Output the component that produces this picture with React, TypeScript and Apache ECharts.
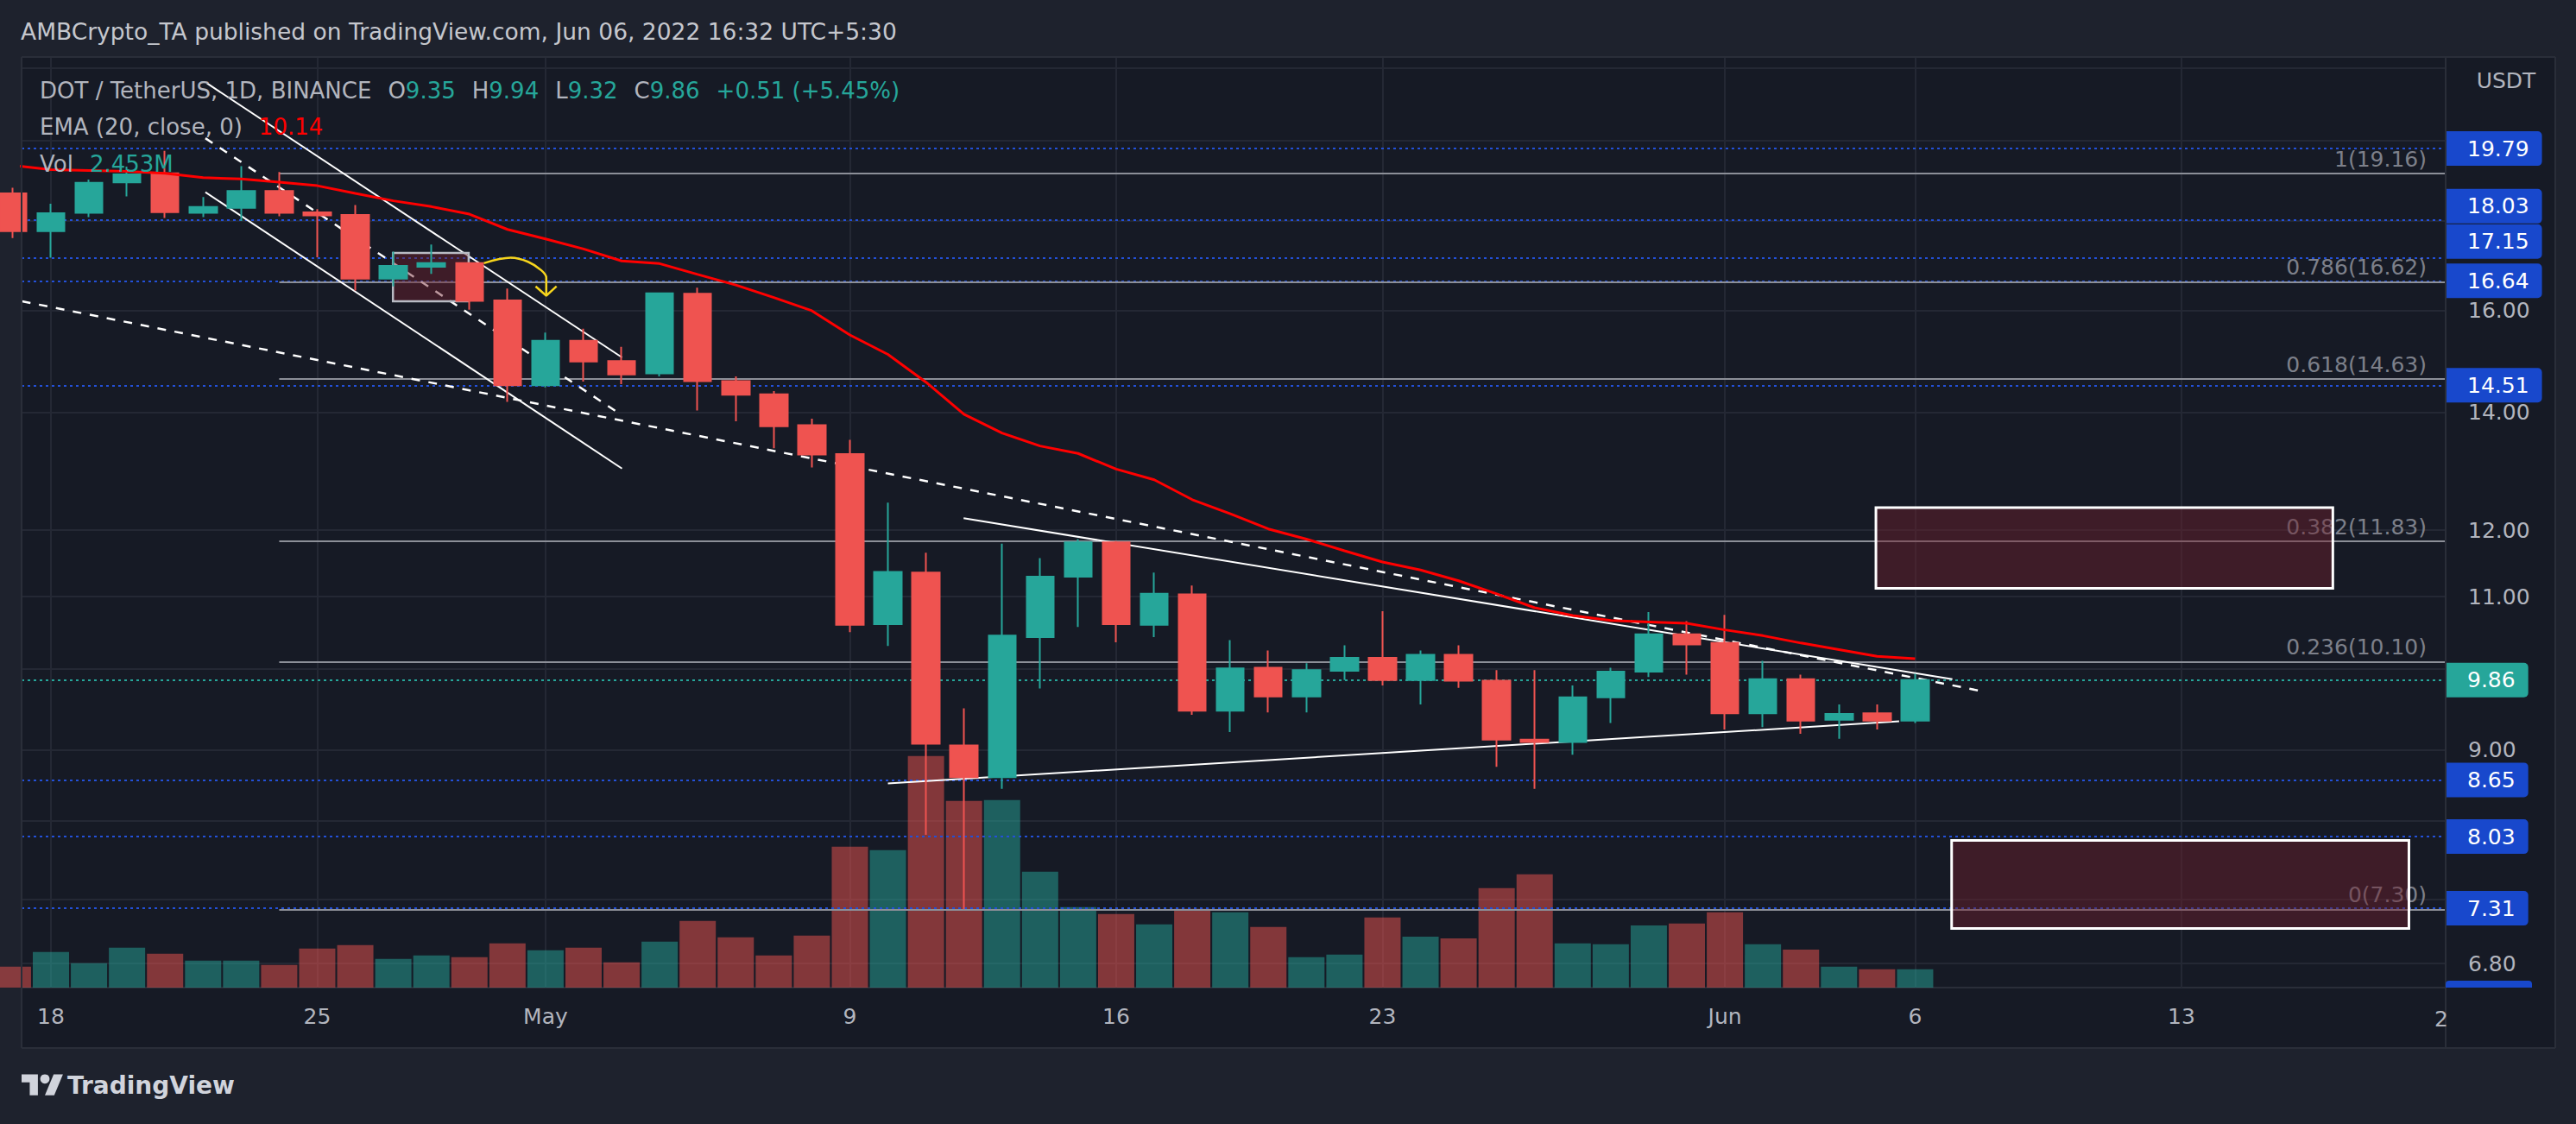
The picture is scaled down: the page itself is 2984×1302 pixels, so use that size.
import React, { useEffect, useRef } from 'react';
import * as echarts from 'echarts';

// ---------- data ----------
const dates = [
  'Apr 17', 'Apr 18', 'Apr 19', 'Apr 20', 'Apr 21', 'Apr 22', 'Apr 23', 'Apr 24', 'Apr 25', 'Apr 26',
  'Apr 27', 'Apr 28', 'Apr 29', 'Apr 30', 'May 1', 'May 2', 'May 3', 'May 4', 'May 5', 'May 6',
  'May 7', 'May 8', 'May 9', 'May 10', 'May 11', 'May 12', 'May 13', 'May 14', 'May 15', 'May 16',
  'May 17', 'May 18', 'May 19', 'May 20', 'May 21', 'May 22', 'May 23', 'May 24', 'May 25', 'May 26',
  'May 27', 'May 28', 'May 29', 'May 30', 'May 31', 'Jun 1', 'Jun 2', 'Jun 3', 'Jun 4', 'Jun 5', 'Jun 6',
];
const opens = [
  18.66, 17.76, 18.19, 18.93, 19.16, 18.19, 18.31, 18.72, 18.20, 18.14,
  16.69, 16.95, 17.03, 16.22, 14.51, 15.38, 14.98, 14.74, 16.36, 14.59,
  14.34, 13.77, 13.26, 10.61, 11.35, 9.05, 8.68, 10.43, 11.29, 11.81,
  10.60, 11.03, 9.47, 10.02, 9.65, 9.98, 10.15, 9.86, 10.19, 9.85,
  9.12, 9.09, 9.64, 9.97, 10.47, 10.35, 9.44, 9.87, 9.36, 9.44, 9.35,
];
const closes = [
  17.76, 18.18, 18.92, 19.13, 18.21, 18.33, 18.72, 18.19, 18.13, 16.69,
  16.97, 17.03, 16.21, 14.51, 15.38, 14.97, 14.72, 16.37, 14.59, 14.33,
  13.75, 13.25, 10.60, 11.36, 9.07, 8.68, 10.45, 11.29, 11.81, 10.61,
  11.04, 9.47, 10.01, 9.65, 9.99, 10.15, 9.86, 10.19, 9.85, 9.12,
  9.09, 9.64, 9.97, 10.47, 10.33, 9.44, 9.87, 9.35, 9.43, 9.35, 9.86,
];
const lows = [
  17.60, 17.15, 18.09, 18.59, 18.07, 18.09, 18.00, 18.11, 17.16, 16.43,
  16.52, 16.79, 16.02, 14.20, 14.47, 14.58, 14.53, 14.68, 14.04, 13.84,
  13.36, 13.03, 10.50, 10.31, 8.05, 7.30, 8.55, 9.75, 10.57, 10.36,
  10.43, 9.42, 9.21, 9.45, 9.45, 9.86, 9.79, 9.55, 9.76, 8.80,
  8.55, 8.94, 9.32, 9.90, 9.93, 9.24, 9.27, 9.19, 9.13, 9.24, 9.32,
];
const highs = [
  18.80, 18.41, 19.00, 19.33, 19.73, 18.57, 19.34, 19.19, 18.28, 18.38,
  17.29, 17.45, 17.05, 16.47, 15.55, 15.63, 15.26, 16.39, 16.49, 14.68,
  14.40, 13.89, 13.51, 12.44, 11.65, 9.50, 11.79, 11.57, 11.86, 11.83,
  11.35, 11.16, 10.39, 10.25, 10.08, 10.32, 10.79, 10.25, 10.32, 9.99,
  9.99, 9.79, 10.02, 10.78, 10.65, 10.74, 10.11, 9.93, 9.55, 9.55, 9.94,
];
// volume in millions
const volumes = [
  2.80, 4.76, 3.26, 5.33, 4.53, 3.61, 3.61, 3.03, 5.22, 5.68,
  3.84, 4.30, 4.07, 5.91, 4.99, 5.33, 3.38, 6.14, 8.91, 6.72,
  4.30, 6.95, 18.81, 18.35, 30.91, 24.92, 25.03, 15.47, 10.75, 9.83,
  8.44, 10.52, 10.06, 8.10, 4.07, 4.41, 9.37, 6.81, 6.58, 13.28,
  15.13, 5.91, 5.79, 8.31, 8.56, 10.06, 5.79, 5.08, 2.80, 2.45, 2.453,
];
const ema20 = [
  19.36, 19.25, 19.23, 19.21, 19.16, 19.05, 19.02, 18.94, 18.85, 18.66,
  18.48, 18.34, 18.16, 17.80, 17.58, 17.35, 17.08, 17.02, 16.78, 16.55,
  16.28, 16.00, 15.50, 15.11, 14.57, 13.97, 13.63, 13.40, 13.27, 13.00,
  12.82, 12.49, 12.26, 12.02, 11.86, 11.68, 11.51, 11.39, 11.23, 11.04,
  10.84, 10.73, 10.66, 10.64, 10.62, 10.53, 10.45, 10.35, 10.26, 10.17, 10.14,
];

// time axis ticks (days from Apr 18)
const timeTickDays = [0, 7, 13, 21, 28, 35, 44, 49, 56];
const timeTickLabels = ['18', '25', 'May', '9', '16', '23', 'Jun', '6', '13'];

// price axis ticks (labels hidden where a price tag covers them)
const priceTicks = [22, 20, 18, 16, 14, 12, 11, 10, 9, 8.2, 7.4, 6.8];
const priceTickShown = [false, false, false, true, true, true, true, false, true, false, false, true];

// horizontal levels (blue dotted) and where their tags sit
const blueLevels = [19.79, 18.03, 17.15, 16.64, 14.51, 8.65, 8.03, 7.31];
const blueTagAnchors = [19.79, 18.35, 17.52, 16.64, 14.51, 8.65, 8.03, 7.31];

// fibonacci retracement
const fibRatios = ['1', '0.786', '0.618', '0.382', '0.236', '0'];
const fibLevels = [19.16, 16.62, 14.63, 11.83, 10.10, 7.30];
const fibStartDay = 6;

// drawings: [day, price]
const channelUpper = [[4.10, 21.56], [15.01, 15.05]];
const channelLower = [[4.06, 18.69], [15.01, 13.01]];
const channelMid = [[4.06, 20.06], [14.97, 13.97]];
const longTrend = [[-0.76, 16.2], [50.82, 9.71]];
const triangleUpper = [[23.99, 12.19], [49.98, 9.87]];
const triangleLower = [[22.0, 8.61], [48.58, 9.34]];
const boxSmall = [[8.99, 17.26], [10.98, 16.20]];
const boxUpper = [[47.97, 12.36], [59.98, 11.12]];
const boxLower = [[49.96, 7.99], [61.98, 7.12]];
const arrowCurve = [[11.38, 17.03], [12.09, 17.15], [12.54, 17.06], [12.89, 16.87], [13.02, 16.71], [13.02, 16.32]];
const arrowHead = [[12.74, 16.52], [13.02, 16.32], [13.29, 16.52]];

// ---------- style ----------
const FONT = "'DejaVu Sans', sans-serif";
const TEAL = '#26a69a';
const RED = '#ef5350';
const GREY_TEXT = '#b2b5be';
const GRID_COLOR = '#242834';
const BORDER = '#2a2e39';
const BLUE_LINE = '#2350d8';
const BLUE_TAG = '#1848cc';
const FIB_LINE = '#8c8f98';
const FIB_TEXT = '#7d808a';

const XMIN = -0.7715;
const XMAX = 62.945;
const PMIN = 6.588;
const PMAX = 22.29;
const VMAX = 124.1;

function buildOption() {
  const n = dates.length;
  const dayOf = (k: number) => k - 1;
  const last = n - 1;
  const change = closes[last] - closes[last - 1];
  const changePct = (change / closes[last - 1]) * 100;

  const candleData = dates.map((_, k) => [dayOf(k), opens[k], closes[k], lows[k], highs[k]]);
  const volData = volumes.map((v, k) => ({
    value: [dayOf(k), v],
    itemStyle: { color: closes[k] >= opens[k] ? 'rgba(38,166,154,0.5)' : 'rgba(239,83,80,0.5)' },
  }));
  const emaData = ema20.map((v, k) => [dayOf(k), v]);

  const axisLabelStyle = { color: GREY_TEXT, fontSize: 25, fontFamily: FONT };
  const tagStyle = {
    show: true, position: 'end', distance: 0, color: '#ffffff', fontSize: 25, fontFamily: FONT,
    padding: [8, 15, 8, 25], lineHeight: 24, borderRadius: [0, 5, 5, 0], opacity: 1,
  };
  const hiddenLine = { color: 'rgba(0,0,0,0)', width: 1, opacity: 1 };

  const seg = (pts: number[][], lineStyle: any) => [
    { coord: pts[0], lineStyle }, { coord: pts[1] },
  ];
  const whiteSolid = { color: '#ffffff', width: 2, type: 'solid' };
  const whiteDashed = { color: '#ffffff', width: 2.5, type: [10, 10] };
  const boxStyle = (border: string, bw: number) => ({
    color: 'rgba(110,30,45,0.45)', borderColor: border, borderWidth: bw,
  });

  const legend1 =
    '{g|DOT / TetherUS, 1D, BINANCE}{s| }' +
    `{g|O}{t|${opens[last].toFixed(2)}}{s| }` +
    `{g|H}{t|${highs[last].toFixed(2)}}{s| }` +
    `{g|L}{t|${lows[last].toFixed(2)}}{s| }` +
    `{g|C}{t|${closes[last].toFixed(2)}}{s| }` +
    `{t|${change >= 0 ? '+' : ''}${change.toFixed(2)} (${change >= 0 ? '+' : ''}${changePct.toFixed(2)}%)}`;
  const rich = {
    g: { fill: GREY_TEXT, fontSize: 26, fontFamily: FONT },
    t: { fill: TEAL, fontSize: 26, fontFamily: FONT },
    r: { fill: '#ff0000', fontSize: 26, fontFamily: FONT },
    s: { width: 19, fontSize: 26, fontFamily: FONT },
  };

  const borderLine = (x1: number, y1: number, x2: number, y2: number) => ({
    type: 'line', z: 20, silent: true,
    shape: { x1, y1, x2, y2 }, style: { stroke: BORDER, lineWidth: 2 },
  });

  return {
    animation: false,
    backgroundColor: '#1e222d',
    textStyle: { fontFamily: FONT },
    grid: { left: 25, right: 151, top: 67, bottom: 158, containLabel: false },
    xAxis: {
      type: 'value', min: XMIN, max: XMAX,
      axisLine: { show: true, lineStyle: { color: BORDER, width: 2 } },
      axisTick: { show: false },
      splitLine: { show: false },
      axisLabel: {
        ...axisLabelStyle, margin: 21,
        customValues: timeTickDays,
        formatter: (v: number) => {
          const j = timeTickDays.indexOf(Math.round(v));
          return j >= 0 ? timeTickLabels[j] : '';
        },
      },
    },
    yAxis: [
      { type: 'log', min: PMIN, max: PMAX, show: false, splitLine: { show: false } },
      { type: 'value', min: 0, max: VMAX, show: false, splitLine: { show: false } },
    ],
    series: [
      // grid lines + price axis labels
      {
        type: 'line', data: [], z: 1, clip: false, silent: true,
        markLine: {
          z: 1, symbol: 'none', silent: true, label: { show: false },
          data: [
            ...priceTicks.map((p, j) => ({
              yAxis: p,
              lineStyle: { color: GRID_COLOR, width: 2, type: 'solid' },
              label: priceTickShown[j]
                ? { show: true, position: 'end', distance: 26, formatter: p.toFixed(2), ...axisLabelStyle }
                : { show: false },
            })),
            ...timeTickDays.map((d) => ({
              xAxis: d,
              lineStyle: { color: GRID_COLOR, width: 2, type: 'solid' },
              label: { show: false },
            })),
          ],
        },
      },
      // volume
      {
        type: 'bar', name: 'Vol', xAxisIndex: 0, yAxisIndex: 1, z: 2, barWidth: 42,
        data: volData,
      },
      // horizontal levels, fib
      {
        type: 'line', data: [], z: 3, clip: false, silent: true,
        markLine: {
          z: 3, symbol: 'none', silent: true, label: { show: false },
          data: [
            ...blueLevels.map((p) => ({
              yAxis: p, lineStyle: { color: BLUE_LINE, width: 2, type: [3, 4] },
            })),
            { yAxis: closes[last], lineStyle: { color: TEAL, width: 2, type: [3, 4] } },
            ...fibLevels.map((p, j) => [
              {
                coord: [fibStartDay, p],
                lineStyle: { color: FIB_LINE, width: 2, type: 'solid' },
                label: {
                  show: true, position: 'insideEndTop', distance: [22, 4],
                  formatter: `${fibRatios[j]}(${p.toFixed(2)})`,
                  color: FIB_TEXT, fontSize: 25, fontFamily: FONT,
                },
              },
              { coord: [XMAX, p] },
            ]),
          ],
        },
      },
      // trend lines
      {
        type: 'line', data: [], z: 4, silent: true,
        markLine: {
          z: 4, symbol: 'none', silent: true, label: { show: false },
          data: [
            seg(channelUpper, whiteSolid),
            seg(channelLower, whiteSolid),
            seg(channelMid, whiteDashed),
            seg(longTrend, whiteDashed),
            seg(triangleUpper, whiteSolid),
            seg(triangleLower, whiteSolid),
          ],
        },
      },
      // boxes
      {
        type: 'line', data: [], z: 5, silent: true,
        markArea: {
          z: 5, silent: true, label: { show: false },
          data: [
            [{ coord: boxSmall[0], itemStyle: boxStyle('#b8bbc4', 2.5) }, { coord: boxSmall[1] }],
            [{ coord: boxUpper[0], itemStyle: boxStyle('#ffffff', 3) }, { coord: boxUpper[1] }],
            [{ coord: boxLower[0], itemStyle: boxStyle('#ffffff', 3) }, { coord: boxLower[1] }],
          ],
        },
      },
      // candles
      {
        type: 'candlestick', name: 'DOT/USDT', xAxisIndex: 0, yAxisIndex: 0, z: 6,
        barWidth: 32,
        data: candleData,
        itemStyle: {
          color: TEAL, color0: RED, borderColor: TEAL, borderColor0: RED, borderWidth: 2,
        },
      },
      // EMA 20
      {
        type: 'line', name: 'EMA', z: 7, data: emaData, symbol: 'none', showSymbol: false,
        lineStyle: { color: '#ff0000', width: 3 },
      },
      // yellow arrow
      {
        type: 'line', z: 8, data: arrowCurve, symbol: 'none', smooth: 0.35,
        lineStyle: { color: '#f7d51d', width: 2.5 },
      },
      {
        type: 'line', z: 8, data: arrowHead, symbol: 'none',
        lineStyle: { color: '#f7d51d', width: 2.5 },
      },
      // price tags
      {
        type: 'line', data: [], z: 12, clip: false, silent: true,
        markLine: {
          z: 12, symbol: 'none', silent: true, label: { show: false },
          data: [
            ...blueTagAnchors.map((a, j) => ({
              yAxis: a,
              lineStyle: hiddenLine,
              label: { ...tagStyle, backgroundColor: BLUE_TAG, formatter: blueLevels[j].toFixed(2) },
            })),
            {
              yAxis: closes[last],
              lineStyle: hiddenLine,
              label: { ...tagStyle, backgroundColor: TEAL, formatter: closes[last].toFixed(2) },
            },
          ],
        },
      },
    ],
    graphic: [
      {
        type: 'rect', z: -10, silent: true,
        shape: { x: 25, y: 66, width: 2935, height: 1148 },
        style: { fill: '#161a25' },
      },
      borderLine(25, 66, 2960, 66),
      borderLine(25, 66, 25, 1214),
      borderLine(2960, 66, 2960, 1214),
      borderLine(2833, 66, 2833, 1214),
      borderLine(25, 1214, 2960, 1214),
      {
        type: 'rect', z: 20, silent: true,
        shape: { x: 2833, y: 1136, width: 100, height: 8, r: [4, 4, 0, 0] },
        style: { fill: BLUE_TAG },
      },
      {
        type: 'text', z: 30, x: 24, y: 36, silent: true,
        style: {
          text: 'AMBCrypto_TA published on TradingView.com, Jun 06, 2022 16:32 UTC+5:30',
          fill: '#c5c7cd', fontSize: 26.5, fontFamily: FONT, verticalAlign: 'middle', align: 'left',
        },
      },
      {
        type: 'text', z: 30, x: 46, y: 105, silent: true,
        style: { text: legend1, rich, verticalAlign: 'middle', align: 'left', fontSize: 26, fontFamily: FONT },
      },
      {
        type: 'text', z: 30, x: 46, y: 147, silent: true,
        style: {
          text: `{g|EMA (20, close, 0)}{s| }{r|${ema20[ema20.length - 1].toFixed(2)}}`,
          rich, verticalAlign: 'middle', align: 'left', fontSize: 26, fontFamily: FONT,
        },
      },
      {
        type: 'text', z: 30, x: 46, y: 190, silent: true,
        style: {
          text: `{g|Vol}{s| }{t|${volumes[volumes.length - 1].toFixed(3)}M}`,
          rich, verticalAlign: 'middle', align: 'left', fontSize: 26, fontFamily: FONT,
        },
      },
      {
        type: 'text', z: 30, x: 2903, y: 93, silent: true,
        style: { text: 'USDT', fill: GREY_TEXT, fontSize: 25, fontFamily: FONT, align: 'center', verticalAlign: 'middle' },
      },
      {
        type: 'text', z: 30, x: 2828, y: 1180, silent: true,
        style: { text: '2', fill: GREY_TEXT, fontSize: 25, fontFamily: FONT, align: 'center', verticalAlign: 'middle' },
      },
      // TradingView logo
      {
        type: 'group', x: 25, y: 1239, scaleX: 1.35, scaleY: 1.35, z: 30, silent: true,
        children: [
          { type: 'polygon', shape: { points: [[0, 4], [14, 4], [14, 22], [7, 22], [7, 11], [0, 11]] }, style: { fill: '#d1d4dc' } },
          { type: 'circle', shape: { cx: 20, cy: 8, r: 4 }, style: { fill: '#d1d4dc' } },
          { type: 'polygon', shape: { points: [[20, 22], [27.5, 4], [35.5, 4], [28, 22]] }, style: { fill: '#d1d4dc' } },
        ],
      },
      {
        type: 'text', z: 30, x: 78, y: 1257, silent: true,
        style: { text: 'TradingView', fill: '#d1d4dc', fontSize: 28, fontWeight: 'bold', fontFamily: FONT, verticalAlign: 'middle' },
      },
    ],
  };
}

export default function App() {
  const ref = useRef<HTMLDivElement>(null);
  useEffect(() => {
    if (!ref.current) return;
    const chart = echarts.init(ref.current, null, { renderer: 'svg' });
    chart.setOption(buildOption() as any);
    return () => chart.dispose();
  }, []);
  return (
    <div
      ref={ref}
      style={{ position: 'fixed', left: 0, top: 0, width: 2984, height: 1302 }}
    />
  );
}
